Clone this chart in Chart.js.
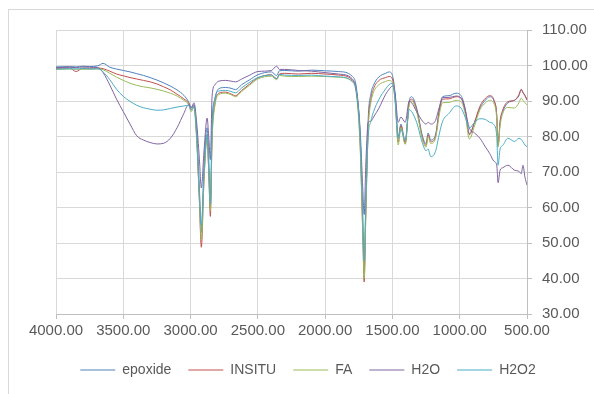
<!doctype html>
<html>

<head>
    <title>IR</title>
    <meta http-equiv="Content-Type" content="text/html;charset=UTF-8">
    <script src="https://cdn.jsdelivr.net/npm/chart.js@4/dist/chart.umd.min.js"></script>
    <style>
        body { margin: 0; background: #fff; }
        #quadro { position: absolute; left: 8px; top: 9px; width: 585px; height: 384px; border: 1px solid #d9d9d9; }
    </style>
</head>

<body>
    <div id="quadro"><canvas id="grafico"></canvas></div>
</body>
<script>

    // numero de onda (cm-1)
    var numeroOnda = [4000, 3900, 3850, 3800, 3750, 3690, 3650, 3600, 3550, 3500,
        3450, 3400, 3350, 3300, 3250, 3200, 3150, 3100, 3050, 3015,
        2995, 2975, 2955, 2935, 2920, 2900, 2877, 2865, 2853, 2840,
        2820, 2790, 2740, 2700, 2666, 2620, 2560, 2500, 2400, 2360,
        2340, 2300, 2200, 2100, 2000, 1900, 1800, 1765, 1740, 1720,
        1710, 1698, 1680, 1660, 1640, 1600, 1550, 1525, 1500, 1480,
        1457, 1437, 1405, 1375, 1357, 1320, 1276, 1250, 1235, 1215,
        1180, 1150, 1127, 1080, 1027, 990, 960, 928, 890, 850,
        808, 777, 745, 725, 715, 700, 680, 642, 593, 560,
        543, 530, 515, 500];

    var epoxide = [99.6, 99.7, 99.6, 99.8, 99.7, 99.9, 100.6, 99.5, 99.0, 98.6,
        98.2, 97.7, 97.2, 96.6, 95.9, 95.1, 94.2, 93.1, 91.6, 89.8,
        88.2, 89.0, 82, 66, 53, 72, 82.5, 74, 60, 84,
        90.5, 93.5, 93.8, 93.6, 93.2, 94.6, 96.0, 97.4, 98.2, 97.2,
        98.5, 98.6, 98.4, 98.7, 98.5, 98.3, 97.0, 93, 80, 55,
        42, 60, 85, 92, 94.5, 96.8, 97.8, 98.2, 97.2, 92,
        80, 83.5, 78.5, 90, 91.2, 88, 80, 78, 81, 79,
        80.5, 88, 91.2, 91.5, 92.2, 91.5, 88, 80.8, 84, 88,
        90.3, 91.2, 90, 86, 77.5, 84, 87, 89.5, 90.2, 91.5,
        93.2, 92.3, 91.5, 90.5];

    var insitu = [99.2, 99.3, 98.3, 99.3, 99.2, 99.3, 99.1, 98.4, 97.6, 97.1,
        96.6, 96.2, 95.8, 95.4, 94.8, 94.0, 93.1, 91.9, 90.6, 89.4,
        87.5, 88.6, 80, 62, 48.8, 68, 80.5, 70, 57.5, 80,
        89, 92.2, 92.5, 92.0, 91.5, 93.0, 94.8, 96.5, 97.4, 96.3,
        97.6, 97.8, 97.6, 97.8, 97.6, 97.3, 96.0, 92, 78, 52,
        39, 58, 83, 90.5, 93.5, 95.8, 96.6, 96.9, 96.2, 91,
        78.5, 83, 78, 89.6, 90.5, 87.5, 79.5, 77.5, 80.5, 78.5,
        80, 87.5, 90.5, 90.6, 91.2, 90.8, 87.5, 80.5, 84, 88.5,
        90.8, 91.5, 90.2, 86, 77.5, 84.3, 87.5, 89.8, 90.2, 91.8,
        93.3, 92.5, 91.5, 90.2];

    var fa = [98.9, 99.0, 99.0, 98.9, 99.0, 99.0, 98.8, 97.8, 96.7, 95.8,
        95.0, 94.4, 94.0, 93.7, 93.3, 92.8, 92.2, 91.4, 90.2, 89.0,
        87.0, 88.2, 79, 63, 51, 68, 80, 70, 59, 79,
        88.5, 91.8, 92.2, 91.8, 91.2, 92.7, 94.5, 96.2, 97.0, 96.0,
        97.2, 97.0, 96.9, 97.0, 96.9, 96.7, 95.5, 91, 77, 52,
        40, 57, 82, 89.5, 92.5, 94.6, 95.5, 95.8, 95.2, 90,
        77.6, 82.5, 77.8, 89, 90, 87, 79, 77, 80, 78,
        79.5, 86.5, 89.5, 89.6, 90.2, 89.8, 86.5, 79.3, 83, 87.5,
        89.5, 90.2, 89.2, 85, 77, 83, 86.5, 88.2, 88.0, 89.5,
        90.8, 90.2, 89.5, 88.9];

    var h2o = [99.4, 99.5, 99.4, 99.6, 99.5, 99.4, 98.0, 94.5, 90.5, 87.0,
        83.5, 80.2, 79.0, 78.3, 77.9, 78.1, 79.5, 82.5, 86.5, 89.0,
        88.0, 89.5, 84, 74, 65.5, 76, 85.2, 80, 73.5, 91.4,
        94.5, 95.6, 95.8, 95.6, 95.4, 96.2, 97.3, 98.3, 98.6, 99.8,
        98.9, 98.9, 98.6, 98.4, 98.0, 97.6, 96.3, 92, 82, 65,
        58, 72, 84, 84.3, 85.5, 88, 91.9, 93.3, 94.2, 92,
        84, 85.5, 84, 90, 89.5, 87, 84.3, 83.5, 84, 83.5,
        84.5, 88.5, 91, 91, 91.4, 90.8, 87.5, 82.4, 81, 79.5,
        77, 75.2, 73, 72, 67, 70.5, 71.2, 71.9, 70.5, 70.2,
        69.5, 71.9, 68.5, 66.3];

    var h2o2 = [99.0, 99.1, 99.0, 99.2, 99.0, 99.1, 98.2, 96.0, 93.3, 91.3,
        89.9, 88.8, 88.1, 87.7, 87.4, 87.5, 87.9, 88.3, 88.6, 88.8,
        87.5, 88.5, 80.5, 64, 55, 70, 80.6, 71, 61, 82,
        90.5, 92.8, 93.0, 92.7, 92.3, 93.7, 95.3, 96.6, 97.3, 96.2,
        97.5, 97.3, 97.2, 97.3, 97.0, 96.8, 95.6, 92, 80, 58,
        45, 62, 80, 84.3, 87, 90.5, 93.4, 94.6, 95.0, 90,
        79.5, 82, 79, 87.6, 87, 84, 78, 76, 76.5, 74.3,
        75.8, 81, 84.3, 86.5, 88.6, 88, 85.5, 82.4, 84, 85,
        84.8, 84, 83.3, 80, 71.9, 76.5, 77.5, 79.5, 78.6, 79.5,
        79.2, 78.5, 77.6, 77.1];

    var series = [
        { nome: "epoxide", valores: epoxide, cor: "#4F81BD" },
        { nome: "INSITU", valores: insitu, cor: "#C0504D" },
        { nome: "FA", valores: fa, cor: "#9BBB59" },
        { nome: "H2O", valores: h2o, cor: "#8064A2" },
        { nome: "H2O2", valores: h2o2, cor: "#4BACC6" }
    ];

    function pontos(valores) {
        return numeroOnda.map((x, i) => ({ x: x, y: valores[i] }));
    }

    // legenda um pouco mais para a esquerda, como no original
    var desvioLegenda = {
        id: 'desvioLegenda',
        afterLayout: function (chart) {
            chart.legend.left -= 17;
            chart.legend.right -= 17;
        }
    };

    Chart.defaults.font.family = "'Liberation Sans', sans-serif";
    Chart.defaults.font.size = 15;
    Chart.defaults.color = "#595959";

    var contexto = document.getElementById("grafico");

    var grafico = new Chart(contexto, {
        type: 'line',
        data: {
            datasets: series.map((s, i) => ({
                label: s.nome,
                data: pontos(s.valores),
                borderColor: s.cor,
                backgroundColor: s.cor,
                borderWidth: 1,
                pointRadius: 0,
                cubicInterpolationMode: 'monotone',
                order: series.length - i
            }))
        },
        options: {
            responsive: true,
            maintainAspectRatio: false,
            animation: false,
            layout: { padding: { left: 47, top: 20, right: 0, bottom: 7 } },
            plugins: {
                tooltip: { enabled: false },
                legend: {
                    position: 'bottom',
                    labels: {
                        usePointStyle: true,
                        pointStyle: 'line',
                        pointStyleWidth: 35,
                        padding: 17,
                        font: { size: 14 },
                        sort: (a, b) => a.datasetIndex - b.datasetIndex
                    }
                }
            },
            scales: {
                x: {
                    type: 'linear',
                    reverse: true,
                    min: 500,
                    max: 4000,
                    afterFit: function (eixo) { eixo.height = 32; },
                    ticks: {
                        stepSize: 500,
                        maxRotation: 0,
                        padding: 3,
                        callback: v => v.toFixed(2)
                    },
                    grid: { color: '#d9d9d9', tickColor: '#bfbfbf', tickLength: 5 },
                    border: { color: '#bfbfbf' }
                },
                y: {
                    position: 'right',
                    min: 30,
                    max: 110,
                    afterFit: function (eixo) { eixo.width = 67; },
                    ticks: {
                        stepSize: 10,
                        padding: 10,
                        callback: v => v.toFixed(2)
                    },
                    grid: { color: '#d9d9d9', tickColor: '#bfbfbf', tickLength: 5 },
                    border: { color: '#bfbfbf' }
                }
            }
        },
        plugins: [desvioLegenda]
    });
</script>

</html>
